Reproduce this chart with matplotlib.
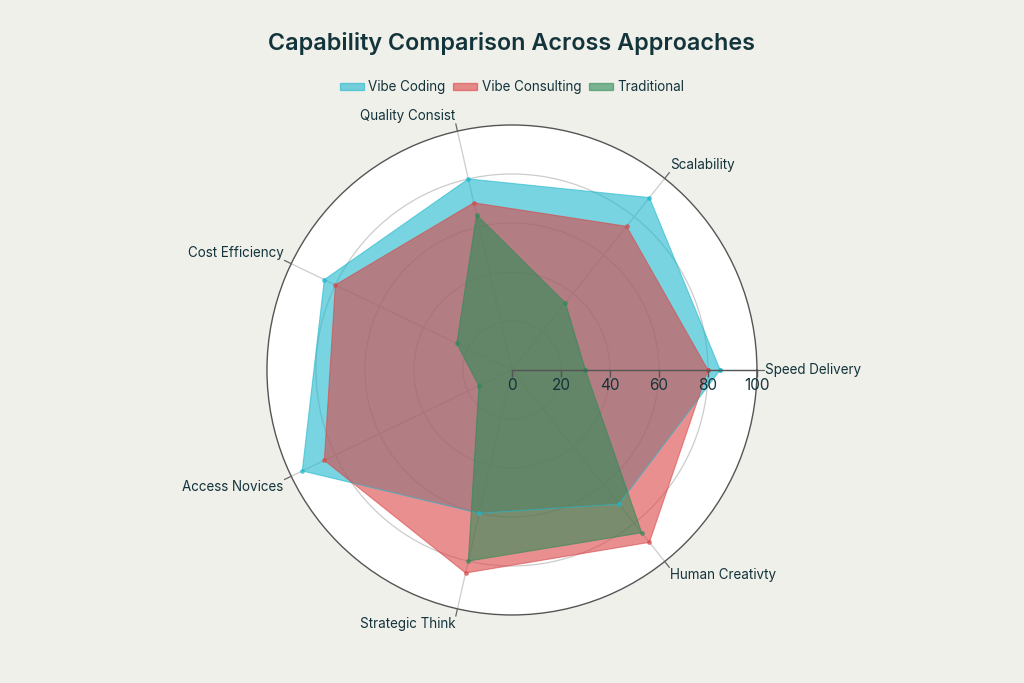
import numpy as np
import matplotlib.pyplot as plt
from matplotlib.patches import Patch

plt.rcParams['font.family'] = ['Inter', 'DejaVu Sans']

categories = ['Speed Delivery', 'Scalability', 'Quality Consist', 'Cost Efficiency',
              'Access Novices', 'Strategic Think', 'Human Creativty']
vibe_coding = [85, 90, 80, 85, 95, 60, 70]
vibe_consulting = [80, 75, 70, 80, 85, 85, 90]
traditional = [30, 35, 65, 25, 15, 80, 85]
r_ticks = [0, 20, 40, 60, 80, 100]

series = [('Vibe Coding', vibe_coding, '#1FB8CD'),
          ('Vibe Consulting', vibe_consulting, '#DB4545'),
          ('Traditional', traditional, '#2E8B57')]

bg = '#F0F0EB'
text_col = '#13343B'

fig = plt.figure(figsize=(10.24, 6.83), dpi=100, facecolor=bg)
ax = fig.add_axes([0.2607, 0.0996, 0.4785, 0.7174], projection='polar')
ax.set_facecolor('white')

n = len(categories)
angles = np.linspace(0, 2 * np.pi, n, endpoint=False)

for name, vals, col in series:
    th = np.append(angles, angles[0])
    rv = np.append(vals, vals[0])
    ax.fill(th, rv, color=col, alpha=0.6, lw=0, zorder=2)
    ax.plot(th, rv, color=col, alpha=0.6, lw=0.8, marker='o', ms=2.5, zorder=3)

ax.set_ylim(0, 100)
ax.set_yticks(r_ticks[1:-1])
ax.set_yticklabels([])
ax.set_xticks(angles)
ax.set_xticklabels([])
ax.grid(color='#CCCCCC', lw=0.9)
ax.set_axisbelow(True)
ax.spines['polar'].set_color('#555555')
ax.spines['polar'].set_linewidth(1)

# small ticks outside the outer circle
for a in angles:
    ax.plot([a, a], [100, 103], color='#666666', lw=0.9, clip_on=False, zorder=4)

# radial axis line with ticks and labels along angle 0
ax.plot([0, 0], [0, 100], color='#555555', lw=1, zorder=4, clip_on=False)
for t in r_ticks:
    ax.plot([0], [t], marker=3, ms=5, color='#555555', mew=1, zorder=4, clip_on=False)
    ax.annotate(str(t), xy=(0, t), xytext=(0, -6), textcoords='offset points',
                ha='center', va='top', fontsize=11, color=text_col, zorder=5)

# category labels outside the circle
for a, lab in zip(angles, categories):
    c, s = np.cos(a), np.sin(a)
    ha = 'left' if c > 0.1 else ('right' if c < -0.1 else 'center')
    if s > 0.3:
        va = 'bottom'
    elif s < -0.3:
        va = 'top'
    else:
        va = 'center'
    ax.annotate(lab, xy=(a, 100), xytext=(c * 6, s * 6), textcoords='offset points',
                ha=ha, va=va, fontsize=9.7, color=text_col, annotation_clip=False)

fig.text(0.5, 0.937, 'Capability Comparison Across Approaches', ha='center', va='center',
         fontsize=16.8, fontweight='semibold', color=text_col)

handles = [Patch(facecolor=col, alpha=0.6, edgecolor=col, label=name) for name, _, col in series]
fig.legend(handles=handles, loc='center', bbox_to_anchor=(0.5, 0.872), ncol=3,
           frameon=False, fontsize=9.7, handlelength=1.8, handleheight=0.45,
           handletextpad=0.3, columnspacing=0.6, labelcolor=text_col)

fig.savefig('out.png', dpi=100, facecolor=bg)
